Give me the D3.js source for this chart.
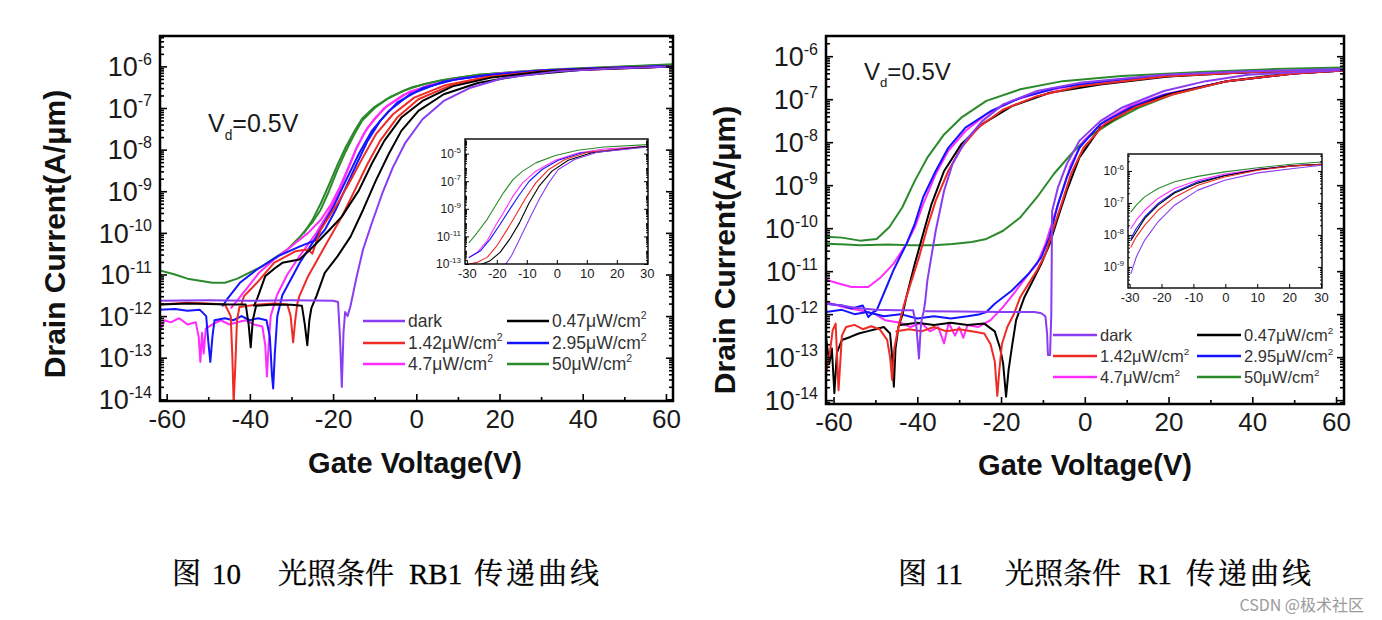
<!DOCTYPE html>
<html><head><meta charset="utf-8">
<script src="https://cdn.jsdelivr.net/npm/d3@7"></script>
<style>body{margin:0;background:#fff;}svg{display:block;}</style>
</head><body>
<svg id="c" width="1382" height="620"></svg>
<script>
// ---------------- DATA (V, log10 of drain current) ----------------
const voltTicks = [-60,-40,-20,0,20,40,60];
const voltMinorTicks = [-50,-30,-10,10,30,50];
const decadeTicks = [-6,-7,-8,-9,-10,-11,-12,-13,-14];
const insetVoltTicks = [-30,-20,-10,0,10,20,30];
const insetDecadesRB1 = [-5,-7,-9,-11,-13];
const insetDecadesR1 = [-6,-7,-8,-9];
const seriesKeys = ["dark","p047","p142","p295","p47","p50"];
const legendText = ["dark","0.47μW/cm","1.42μW/cm","2.95μW/cm","4.7μW/cm","50μW/cm"];
const legendSup = ["","2","2","2","2","2"];
const caption10 = ["图", "10", "光照条件", "RB1", "传递曲线"];
const caption11 = ["图", "11", "光照条件", "R1", "传递曲线"];
const watermark = "CSDN @极术社区";
const vdLabel = ["V","d","=0.5V"];

// ---- Figure 10 (RB1) main ----
const rb1Dark = [[-61.8,-11.63],[-50,-11.62],[-40,-11.63],[-30,-11.62],[-20,-11.63],[-18.8,-11.66],[-18.3,-12.6],[-17.9,-13.7],[-17.5,-12.4],[-17.1,-11.9],[-16.5,-12.0],[-15.8,-11.75],[-14.3,-11.04],[-12.8,-10.4],[-10.7,-9.77],[-8.2,-9.06],[-5.6,-8.42],[-2.6,-7.83],[1.5,-7.27],[6.6,-6.83],[12.8,-6.52],[21,-6.28],[34,-6.12],[47,-6.05],[61.8,-6.0]];
const rb1Black1 = [[-61.8,-11.72],[-55,-11.7],[-50,-11.71],[-45,-11.72],[-41,-11.72],[-40.3,-12.2],[-39.8,-12.75],[-39.3,-12.1],[-38.5,-11.75],[-34,-11.72],[-30,-11.73],[-27.5,-11.75],[-26.8,-12.2],[-26.2,-12.7],[-25.7,-12.1],[-25.2,-11.8],[-24,-11.52],[-22,-10.96],[-18.9,-10.56],[-15.8,-10.09],[-12.8,-9.45],[-9.7,-8.74],[-6.6,-8.1],[-3.6,-7.55],[0.5,-7.07],[6.6,-6.67],[14.8,-6.4],[25,-6.22],[40,-6.08],[61.8,-6.0]];
const rb1Black2 = [[-39,-11.75],[-38.3,-11.6],[-36.3,-11.04],[-34,-10.85],[-32.2,-10.72],[-28.1,-10.64],[-26,-10.45],[-24,-10.25],[-20.9,-9.93],[-17.9,-9.61],[-13.8,-8.98],[-10.7,-8.34],[-7.7,-7.79],[-3.6,-7.23],[1.5,-6.83],[8.7,-6.48],[18,-6.27],[30,-6.13],[45,-6.05],[61.8,-6.0]];
const rb1Red1 = [[-61.8,-11.72],[-55,-11.68],[-50,-11.7],[-46,-11.72],[-44.6,-12.0],[-44.2,-13.0],[-43.9,-14.1],[-43.5,-13.2],[-43.1,-12.1],[-42.5,-11.78],[-38,-11.72],[-34,-11.7],[-31,-11.72],[-30.2,-12.0],[-29.6,-12.63],[-29.1,-12.1],[-28.6,-11.7],[-28.1,-11.52],[-26,-11.04],[-22,-10.33],[-17.9,-9.61],[-14.8,-8.98],[-11.7,-8.34],[-8.7,-7.79],[-4.6,-7.23],[0.5,-6.79],[8.7,-6.44],[18,-6.25],[30,-6.12],[45,-6.05],[61.8,-6.0]];
const rb1Red2 = [[-42,-11.7],[-41.4,-11.52],[-38.3,-11.2],[-34.2,-10.72],[-31.2,-10.56],[-29,-10.44],[-27.5,-10.42],[-26,-10.4],[-25,-10.5],[-23,-9.93],[-18.9,-9.29],[-15.8,-8.74],[-12.8,-8.18],[-9.7,-7.63],[-5.6,-7.15],[-0.5,-6.75],[7,-6.45],[16,-6.27],[30,-6.12],[61.8,-6.0]];
const rb1Blue1 = [[-61.8,-11.85],[-58,-11.83],[-55,-11.87],[-52,-11.85],[-50.5,-12.0],[-50,-12.6],[-49.5,-13.1],[-49,-12.5],[-48.5,-12.1],[-46,-12.05],[-44,-12.1],[-42,-12.0],[-40,-12.1],[-38,-12.05],[-36,-12.1],[-35.2,-12.5],[-34.7,-13.4],[-34.4,-13.74],[-34.0,-12.9],[-33.4,-12.0],[-32.2,-11.5],[-28,-10.72],[-24,-10.09],[-19.9,-9.37],[-16.9,-8.74],[-13.8,-8.1],[-10.7,-7.55],[-6.6,-7.07],[-1.5,-6.67],[6.6,-6.36],[16,-6.22],[30,-6.1],[45,-6.04],[61.8,-5.99]];
const rb1Blue2 = [[-46.5,-11.75],[-45.5,-11.6],[-42.4,-11.2],[-38.3,-10.88],[-33.2,-10.56],[-28.1,-10.33],[-24,-10.17],[-22,-9.93],[-19.4,-9.45],[-16.9,-8.9],[-14.3,-8.34],[-11.7,-7.79],[-8.7,-7.31],[-4.6,-6.87],[1.5,-6.52],[10,-6.3],[20,-6.18],[35,-6.08],[61.8,-5.99]];
const rb1Magenta1 = [[-61.8,-12.4],[-60.5,-12.1],[-59,-12.15],[-57,-12.05],[-55,-12.2],[-53,-12.15],[-52.3,-12.5],[-51.9,-13.1],[-51.5,-12.4],[-51.1,-12.9],[-50.6,-12.3],[-49,-12.2],[-47,-12.1],[-45,-12.2],[-43,-12.15],[-41,-12.1],[-39,-12.2],[-37,-12.25],[-36.3,-12.7],[-35.9,-13.45],[-35.5,-12.7],[-35,-12.0],[-33.5,-11.5],[-31,-11.0],[-28,-10.55],[-24,-10.0],[-21,-9.5],[-18.5,-9.0],[-16.5,-8.5],[-14.5,-8.0],[-12.5,-7.6],[-10,-7.25],[-7,-6.95],[-3,-6.68],[3,-6.45],[10,-6.3],[20,-6.17],[30,-6.1],[45,-6.04],[61.8,-5.99]];
const rb1Magenta2 = [[-44.5,-11.8],[-43.4,-11.67],[-40.3,-11.28],[-37.8,-10.96],[-34.2,-10.64],[-30.1,-10.33],[-26,-10.0],[-23,-9.69],[-20.4,-9.3],[-18.4,-8.9],[-16.3,-8.42],[-14.3,-7.94],[-11.7,-7.47],[-7.7,-7.0],[-1.5,-6.6],[8.7,-6.32],[20,-6.18],[35,-6.08],[61.8,-5.99]];
const rb1Green1 = [[-61.8,-10.9],[-58,-11.0],[-55,-11.1],[-52,-11.15],[-49,-11.2],[-46,-11.2],[-43,-11.1],[-40,-10.95],[-37,-10.8],[-34,-10.6],[-31,-10.4],[-28,-10.1],[-25,-9.75],[-23,-9.45],[-21,-9.0],[-19,-8.5],[-17,-8.05],[-15,-7.65],[-13,-7.3],[-10,-7.0],[-7,-6.78],[-3,-6.58],[2,-6.42],[8,-6.3],[15,-6.2],[25,-6.12],[35,-6.06],[45,-6.02],[55,-5.98],[61.8,-5.95]];
const rb1Green2 = [[-27,-10.0],[-25,-9.7],[-23,-9.3],[-21,-8.85],[-19,-8.38],[-17,-7.95],[-15,-7.58],[-13,-7.25],[-10,-6.97],[-6,-6.72],[-1,-6.5],[6,-6.33],[15,-6.2],[30,-6.09],[61.8,-5.96]];

// ---- Figure 10 inset ----
const rb1InsetGreen = [[-29.2,-11.44],[-26.5,-10.72],[-23.2,-9.76],[-20.5,-8.8],[-17.8,-7.84],[-14.6,-6.88],[-11.4,-6.27],[-7,-5.67],[-0.5,-5.14],[7,-4.76],[15.7,-4.52],[30.3,-4.35]];
const rb1InsetMagenta = [[-29.2,-12.52],[-26.5,-12.16],[-23.2,-11.32],[-20.5,-10.24],[-17.8,-9.28],[-14.6,-8.08],[-11.4,-7.12],[-7,-6.27],[-0.5,-5.48],[7,-4.95],[15.7,-4.66],[30.3,-4.47]];
const rb1InsetBlue = [[-29.2,-12.52],[-25.4,-12.04],[-22.2,-11.2],[-18.9,-10.12],[-15.7,-9.04],[-12.4,-7.96],[-9.2,-7.0],[-4.9,-6.15],[0.5,-5.48],[8.1,-4.95],[30.3,-4.47]];
const rb1InsetRed = [[-29.2,-13.0],[-26.5,-12.88],[-23.2,-12.52],[-20,-11.68],[-16.8,-10.6],[-13.5,-9.4],[-10.3,-8.2],[-7,-7.12],[-2.7,-6.15],[2.7,-5.43],[10.3,-4.9],[30.3,-4.47]];
const rb1InsetBlack = [[-25.9,-13.1],[-22.2,-12.76],[-18.9,-12.16],[-15.7,-11.2],[-12.4,-10.0],[-9.2,-8.56],[-5.9,-7.36],[-1.6,-6.27],[3.8,-5.48],[11.4,-4.95],[30.3,-4.47]];
const rb1InsetDark = [[-17.3,-13.1],[-15.1,-12.4],[-12.4,-11.2],[-9.2,-9.76],[-5.9,-8.32],[-2.7,-7.12],[0.5,-6.15],[5.9,-5.43],[13.5,-4.9],[30.3,-4.52]];

// ---- Figure 11 (R1) main ----
const r1DarkA = [[-61.8,-11.76],[-58,-11.8],[-55,-11.85],[-50,-11.9],[-45,-11.91],[-41,-11.91],[-40.2,-12.3],[-39.6,-13.03],[-39.1,-12.2],[-38.5,-11.95],[-38.1,-11.7],[-37.6,-11.22],[-35.6,-10.06],[-33.6,-9.13],[-31.6,-8.51],[-28.5,-7.97],[-24.5,-7.51],[-19.5,-7.12],[-11.4,-6.81],[-1.3,-6.62],[18.9,-6.43],[39,-6.35],[61.8,-6.3]];
const r1DarkB = [[-38,-11.93],[-30,-11.94],[-20,-11.95],[-12,-11.95],[-10.4,-11.98],[-9.4,-12.05],[-9.0,-12.45],[-8.8,-12.95],[-8.3,-12.95],[-8.0,-12.0],[-7.8,-9.6],[-6.4,-9.05],[-4.3,-8.51],[-1.3,-7.97],[3.7,-7.51],[8.8,-7.2],[18.9,-6.81],[28.9,-6.58],[39,-6.43],[61.8,-6.32]];
const r1GreenA = [[-61.8,-10.2],[-58,-10.22],[-53.7,-10.29],[-49.7,-10.25],[-46.7,-9.98],[-43.6,-9.52],[-40.6,-8.9],[-37.6,-8.36],[-33.6,-7.82],[-29.5,-7.43],[-23.5,-7.04],[-15.4,-6.77],[-5.3,-6.58],[8.8,-6.46],[28.9,-6.36],[45,-6.3],[61.8,-6.26]];
const r1GreenB = [[-61.8,-10.36],[-57,-10.38],[-53.7,-10.4],[-47,-10.38],[-41.6,-10.4],[-36,-10.4],[-31.6,-10.37],[-27,-10.32],[-23.5,-10.25],[-19.5,-10.06],[-15.4,-9.75],[-11.4,-9.28],[-7.4,-8.74],[-3.3,-8.28],[0.7,-7.89],[6.8,-7.51],[12.8,-7.2],[20.9,-6.89],[34,-6.58],[49,-6.39],[61.8,-6.3]];
const r1MagentaA = [[-61.8,-11.2],[-59,-11.28],[-55.7,-11.37],[-51.7,-11.37],[-48.7,-11.14],[-45.7,-10.83],[-42.6,-10.37],[-40.6,-9.98],[-38.6,-9.44],[-35.6,-8.74],[-32.6,-8.2],[-28.5,-7.74],[-23.5,-7.35],[-17.4,-7.04],[-9.4,-6.81],[0.7,-6.62],[18.9,-6.46],[40,-6.37],[61.8,-6.32]];
const r1MagentaB = [[-61.8,-11.72],[-57,-11.85],[-53.7,-11.91],[-50,-12.0],[-47.7,-12.14],[-44,-12.2],[-41.6,-12.3],[-39,-12.2],[-37,-12.4],[-35,-12.3],[-33.6,-12.68],[-32.5,-12.2],[-31,-12.5],[-30,-12.3],[-29,-12.55],[-28,-12.25],[-25.5,-12.3],[-22.5,-12.14],[-19.5,-11.83],[-16.4,-11.45],[-13.4,-11.06],[-11.4,-10.83],[-9.4,-10.37],[-7.4,-9.75],[-5.3,-9.13],[-3.3,-8.51],[-0.3,-7.97],[4.7,-7.51],[10.8,-7.16],[18.9,-6.89],[34,-6.58],[50,-6.4],[61.8,-6.33]];
const r1BlueA = [[-61.8,-11.76],[-58,-11.8],[-55.7,-11.87],[-53,-11.8],[-51.7,-12.07],[-50.5,-11.95],[-49.7,-11.91],[-47.7,-11.45],[-45.7,-10.98],[-42.6,-10.37],[-40.6,-9.9],[-38.6,-9.28],[-35.6,-8.67],[-32.6,-8.13],[-28.5,-7.66],[-22.5,-7.28],[-15.4,-6.97],[-6.4,-6.73],[8.8,-6.54],[30,-6.4],[61.8,-6.32]];
const r1BlueB = [[-61.8,-11.95],[-58,-11.9],[-55,-12.0],[-52,-11.95],[-48,-12.05],[-44,-12.0],[-40,-12.1],[-36,-12.05],[-32,-12.1],[-28,-12.05],[-25,-12.0],[-23.5,-11.95],[-21.5,-11.76],[-17.4,-11.45],[-13.4,-11.06],[-10.4,-10.68],[-8.4,-10.2],[-6.4,-9.44],[-4.3,-8.82],[-1.3,-8.13],[3.7,-7.58],[10.8,-7.2],[18.9,-6.9],[34,-6.58],[50,-6.4],[61.8,-6.33]];
const r1RedA = [[-61.8,-13.38],[-61,-12.99],[-60.2,-12.37],[-59.5,-12.22],[-58.8,-13.77],[-58,-12.5],[-57,-12.3],[-55,-12.25],[-53,-12.35],[-51,-12.28],[-49,-12.35],[-47.2,-12.6],[-46.5,-13.0],[-46.0,-13.53],[-45.5,-12.8],[-44.5,-12.3],[-43.1,-11.76],[-41.6,-11.29],[-39.6,-10.68],[-37.6,-9.98],[-35.6,-9.36],[-32.6,-8.67],[-29.5,-8.13],[-25.5,-7.66],[-19.5,-7.24],[-11.4,-6.93],[-1.3,-6.7],[18.9,-6.47],[40,-6.37],[61.8,-6.32]];
const r1RedB = [[-45,-12.4],[-42,-12.35],[-39,-12.4],[-36,-12.3],[-33,-12.4],[-30,-12.35],[-27,-12.4],[-24,-12.45],[-22.5,-12.7],[-21.5,-13.1],[-20.9,-13.9],[-20.4,-13.3],[-19.8,-12.7],[-18.5,-12.3],[-16.9,-11.99],[-15.4,-11.6],[-13.4,-11.29],[-11.4,-10.98],[-9.4,-10.6],[-7.4,-9.98],[-5.3,-9.36],[-3.3,-8.74],[-0.3,-8.13],[4.7,-7.58],[11.8,-7.2],[20.9,-6.89],[34,-6.58],[50,-6.4],[61.8,-6.33]];
const r1BlackA = [[-61.8,-12.53],[-61,-13.15],[-60.4,-12.8],[-59.8,-13.84],[-59.2,-12.9],[-58,-12.6],[-56,-12.53],[-54,-12.45],[-52,-12.4],[-50,-12.35],[-48,-12.3],[-46.5,-12.45],[-46,-13.0],[-45.6,-13.69],[-45.2,-12.8],[-44.5,-12.3],[-43.5,-12.0],[-42.6,-11.6],[-40.6,-10.83],[-38.6,-10.13],[-36.6,-9.44],[-33.6,-8.67],[-29.5,-8.05],[-24.5,-7.58],[-17.4,-7.16],[-8.4,-6.85],[3.7,-6.66],[20,-6.47],[40,-6.37],[61.8,-6.32]];
const r1BlackB = [[-44,-12.25],[-40,-12.2],[-36,-12.25],[-32,-12.2],[-28,-12.25],[-24,-12.22],[-21.5,-12.4],[-20.2,-12.8],[-19.5,-13.15],[-18.8,-13.92],[-18.2,-13.3],[-17.4,-12.76],[-16.4,-12.14],[-14.4,-11.6],[-12.4,-11.22],[-10.4,-10.83],[-8.4,-10.37],[-6.4,-9.75],[-4.3,-9.13],[-1.3,-8.36],[3.7,-7.66],[10.8,-7.24],[20,-6.89],[34,-6.58],[50,-6.4],[61.8,-6.33]];

// ---- Figure 11 inset ----
const r1InsetGreen = [[-29.6,-7.28],[-27.9,-7.07],[-25.3,-6.81],[-21.1,-6.55],[-15.9,-6.34],[-8.6,-6.17],[-0.2,-6.03],[10.2,-5.9],[20.7,-5.79],[30.1,-5.72]];
const r1InsetMagenta = [[-29.6,-7.8],[-27.9,-7.54],[-25.3,-7.23],[-21.1,-6.86],[-15.9,-6.55],[-8.6,-6.29],[-0.2,-6.1],[10.2,-5.95],[20.7,-5.84],[30.1,-5.79]];
const r1InsetBlue = [[-29.6,-8.11],[-27.9,-7.8],[-25.3,-7.44],[-21.1,-7.02],[-15.9,-6.66],[-8.6,-6.34],[-0.2,-6.14],[10.2,-5.96],[20.7,-5.84],[30.1,-5.79]];
const r1InsetBlack = [[-29.6,-8.17],[-27.9,-7.91],[-25.3,-7.49],[-21.1,-7.07],[-15.9,-6.69],[-8.6,-6.38],[-0.2,-6.15],[10.2,-5.96],[20.7,-5.84],[30.1,-5.79]];
const r1InsetRed = [[-29.6,-8.38],[-27.9,-8.06],[-25.3,-7.7],[-21.1,-7.23],[-15.9,-6.82],[-8.6,-6.45],[-0.2,-6.19],[10.2,-5.98],[20.7,-5.85],[30.1,-5.8]];
const r1InsetDark = [[-29.6,-9.21],[-27.9,-8.69],[-25.3,-8.17],[-21.1,-7.59],[-15.9,-7.07],[-8.6,-6.6],[-0.2,-6.29],[10.2,-6.06],[20.7,-5.93],[30.1,-5.82]];

// ---------------- STYLE ----------------
const colors = {dark:"#8a3cf2", p047:"#000000", p142:"#ee2b24", p295:"#1414ff", p47:"#ff2cff", p50:"#2b8a2b"};
const SANS = "'Liberation Sans', Arial, Helvetica, sans-serif";
const SERIF = "'Liberation Serif', 'Noto Serif CJK SC', 'Noto Sans CJK SC', serif";

const svg = d3.select("#c");
const defs = svg.append("defs");

function logTicks(lo, hi) {
  const out = [];
  for (let e = Math.floor(lo); e <= Math.ceil(hi); e++) {
    for (let k = 2; k <= 9; k++) {
      const v = k * Math.pow(10, e);
      const l = Math.log10(v);
      if (l > lo && l < hi) out.push(v);
    }
  }
  return out;
}

function drawPlot(cfg) {
  const g = svg.append("g");
  const x = d3.scaleLinear().domain(cfg.xDomain).range([cfg.x0, cfg.x1]);
  const y = d3.scaleLog().domain(cfg.yDomain.map(e => Math.pow(10, e))).range([cfg.y1, cfg.y0]);
  const cid = cfg.id + "-clip";
  defs.append("clipPath").attr("id", cid).append("rect")
    .attr("x", cfg.x0).attr("y", cfg.y0).attr("width", cfg.x1 - cfg.x0).attr("height", cfg.y1 - cfg.y0);
  if (cfg.bg) g.append("rect").attr("x", cfg.x0).attr("y", cfg.y0).attr("width", cfg.x1 - cfg.x0).attr("height", cfg.y1 - cfg.y0).attr("fill", "#fff");
  const line = d3.line().x(d => x(d[0])).y(d => y(Math.pow(10, d[1])));
  const cg = g.append("g").attr("clip-path", `url(#${cid})`);
  cfg.curves.forEach(c => {
    cg.append("path").attr("d", line(c.data)).attr("fill", "none")
      .attr("stroke", colors[c.key]).attr("stroke-width", cfg.lw)
      .attr("stroke-linejoin", "round").attr("stroke-linecap", "round");
  });
  const majors = cfg.decades.map(e => Math.pow(10, e));
  const minors = logTicks(cfg.yDomain[0], cfg.yDomain[1]);
  const clean = s => { s.select(".domain").remove(); s.selectAll("line").attr("stroke", "#000").attr("stroke-width", cfg.tickW); };
  g.append("g").attr("transform", `translate(${cfg.x0},0)`).call(d3.axisLeft(y).tickValues(majors).tickSize(-cfg.maj).tickFormat("")).call(clean);
  g.append("g").attr("transform", `translate(${cfg.x0},0)`).call(d3.axisLeft(y).tickValues(minors).tickSize(-cfg.min).tickFormat("")).call(clean);
  g.append("g").attr("transform", `translate(${cfg.x1},0)`).call(d3.axisRight(y).tickValues(majors).tickSize(-cfg.maj).tickFormat("")).call(clean);
  g.append("g").attr("transform", `translate(${cfg.x1},0)`).call(d3.axisRight(y).tickValues(minors).tickSize(-cfg.min).tickFormat("")).call(clean);
  const xa = g.append("g").attr("transform", `translate(0,${cfg.y1})`)
    .call(d3.axisBottom(x).tickValues(cfg.xTicks).tickSize(-cfg.maj).tickPadding(cfg.xPad).tickFormat(d => String(d)));
  xa.call(clean);
  xa.selectAll("text").attr("font-family", SANS).attr("font-size", cfg.xFont).attr("fill", "#1a1a1a");
  if (cfg.xMinor) g.append("g").attr("transform", `translate(0,${cfg.y1})`)
    .call(d3.axisBottom(x).tickValues(cfg.xMinor).tickSize(-cfg.min).tickFormat("")).call(clean);
  g.append("rect").attr("x", cfg.x0).attr("y", cfg.y0).attr("width", cfg.x1 - cfg.x0).attr("height", cfg.y1 - cfg.y0)
    .attr("fill", "none").attr("stroke", "#000").attr("stroke-width", cfg.frameW);
  cfg.decades.forEach(e => {
    const t = g.append("text").attr("x", cfg.x0 - cfg.yPad).attr("y", y(Math.pow(10, e)) + cfg.yFont * 0.36)
      .attr("text-anchor", "end").attr("font-family", SANS).attr("font-size", cfg.yFont).attr("fill", "#1a1a1a");
    t.append("tspan").text("10");
    t.append("tspan").attr("font-size", cfg.supFont).attr("dy", -cfg.yFont * 0.42).text(String(e));
  });
  return {x, y, g};
}

function mainCurves(list) { return list.map(([key, data]) => ({key, data})); }

// ---------- Figure 10 ----------
drawPlot({
  id: "rb1", x0: 160, x1: 673, y0: 36, y1: 401, xDomain: [-61.6, 61.7], yDomain: [-14.04, -5.27],
  decades: decadeTicks, xTicks: voltTicks, xMinor: voltMinorTicks, lw: 2, maj: 7, min: 4, tickW: 1.6, frameW: 2.5,
  xPad: 9, xFont: 26, yPad: 8, yFont: 27, supFont: 16,
  curves: mainCurves([["p50", rb1Green1], ["p50", rb1Green2], ["p47", rb1Magenta1], ["p47", rb1Magenta2],
    ["p295", rb1Blue1], ["p295", rb1Blue2], ["p142", rb1Red1], ["p142", rb1Red2], ["p047", rb1Black1], ["p047", rb1Black2], ["dark", rb1Dark]])
});
drawPlot({
  id: "rb1i", x0: 465, x1: 648, y0: 139, y1: 264, xDomain: [-30.6, 30.4], yDomain: [-13.0, -3.94], bg: true,
  decades: insetDecadesRB1, xTicks: insetVoltTicks, xMinor: null, lw: 1.1, maj: 4, min: 2, tickW: 1, frameW: 1.4,
  xPad: 5, xFont: 13, yPad: 4, yFont: 12, supFont: 8,
  curves: mainCurves([["p50", rb1InsetGreen], ["p47", rb1InsetMagenta], ["p295", rb1InsetBlue], ["p142", rb1InsetRed], ["p047", rb1InsetBlack], ["dark", rb1InsetDark]])
});

// ---------- Figure 11 ----------
drawPlot({
  id: "r1", x0: 826, x1: 1344, y0: 36, y1: 404, xDomain: [-61.8, 61.9], yDomain: [-14.09, -5.53],
  decades: decadeTicks, xTicks: voltTicks, xMinor: voltMinorTicks, lw: 2, maj: 7, min: 4, tickW: 1.6, frameW: 2.5,
  xPad: 9, xFont: 26, yPad: 8, yFont: 27, supFont: 16,
  curves: mainCurves([["p50", r1GreenA], ["p50", r1GreenB], ["p47", r1MagentaA], ["p47", r1MagentaB],
    ["p295", r1BlueA], ["p295", r1BlueB], ["p047", r1BlackA], ["p047", r1BlackB], ["p142", r1RedA], ["p142", r1RedB], ["dark", r1DarkA], ["dark", r1DarkB]])
});
drawPlot({
  id: "r1i", x0: 1128, x1: 1322, y0: 154, y1: 288, xDomain: [-30.5, 30.3], yDomain: [-9.66, -5.47], bg: true,
  decades: insetDecadesR1, xTicks: insetVoltTicks, xMinor: null, lw: 1.1, maj: 4, min: 2, tickW: 1, frameW: 1.4,
  xPad: 5, xFont: 13, yPad: 4, yFont: 12, supFont: 8,
  curves: mainCurves([["p50", r1InsetGreen], ["p47", r1InsetMagenta], ["p295", r1InsetBlue], ["p047", r1InsetBlack], ["p142", r1InsetRed], ["dark", r1InsetDark]])
});

// ---------- legends ----------
function legend(cx1, cx2, rows, lineLen, font) {
  const cols = [cx1, cx2];
  const g = svg.append("g");
  seriesKeys.forEach((k, i) => {
    const cx = cols[i % 2], cy = rows[Math.floor(i / 2)];
    g.append("line").attr("x1", cx).attr("x2", cx + lineLen).attr("y1", cy).attr("y2", cy)
      .attr("stroke", colors[k]).attr("stroke-width", 2.6);
    const t = g.append("text").attr("x", cx + lineLen + 3).attr("y", cy + font * 0.36)
      .attr("font-family", SANS).attr("font-size", font).attr("fill", "#333");
    t.append("tspan").text(legendText[i]);
    if (legendSup[i]) t.append("tspan").attr("font-size", font * 0.6).attr("dy", -font * 0.45).text(legendSup[i]);
  });
}
legend(363, 507, [321, 343, 364], 42, 17.5);
legend(1053, 1197, [335, 356, 377], 44, 16.5);

// ---------- Vd labels ----------
function vd(x, yb, size) {
  const t = svg.append("text").attr("x", x).attr("y", yb).attr("font-family", SANS).attr("font-size", size).attr("fill", "#1a1a1a");
  t.append("tspan").text(vdLabel[0]);
  t.append("tspan").attr("font-size", size * 0.55).attr("dy", size * 0.3).text(vdLabel[1]);
  t.append("tspan").attr("dy", -size * 0.3).text(vdLabel[2]);
}
vd(208, 132, 25);
vd(864, 80, 24);

// ---------- axis titles ----------
function titles(cxX, yX, xY, cyY) {
  svg.append("text").attr("x", cxX).attr("y", yX).attr("text-anchor", "middle")
    .attr("font-family", SANS).attr("font-weight", "bold").attr("font-size", 29).attr("fill", "#111").text("Gate Voltage(V)");
  svg.append("text").attr("transform", `translate(${xY},${cyY}) rotate(-90)`).attr("text-anchor", "middle")
    .attr("font-family", SANS).attr("font-weight", "bold").attr("font-size", 30).attr("fill", "#111").text("Drain Current(A/μm)");
}
titles(415, 473, 65, 234);
titles(1085, 475, 735, 250);

// ---------- captions ----------
function cap(parts, xs, y) {
  parts.forEach((s, i) => {
    svg.append("text").attr("x", xs[i]).attr("y", y).attr("font-family", SERIF).attr("font-size", 29)
      .attr("letter-spacing", i === 4 ? 3 : 0)
      .attr("fill", "#000").attr("stroke", "#000").attr("stroke-width", 0.3).text(s);
  });
}
cap(caption10, [172, 212, 278, 409, 474], 584);
cap(caption11, [898, 935, 1005, 1138, 1186], 584);
svg.append("text").attr("x", 1364).attr("y", 611).attr("text-anchor", "end").attr("font-family", "'Noto Sans CJK SC', sans-serif")
  .attr("font-size", 16).attr("fill", "#9a9a9a").text(watermark);
</script>
</body></html>
